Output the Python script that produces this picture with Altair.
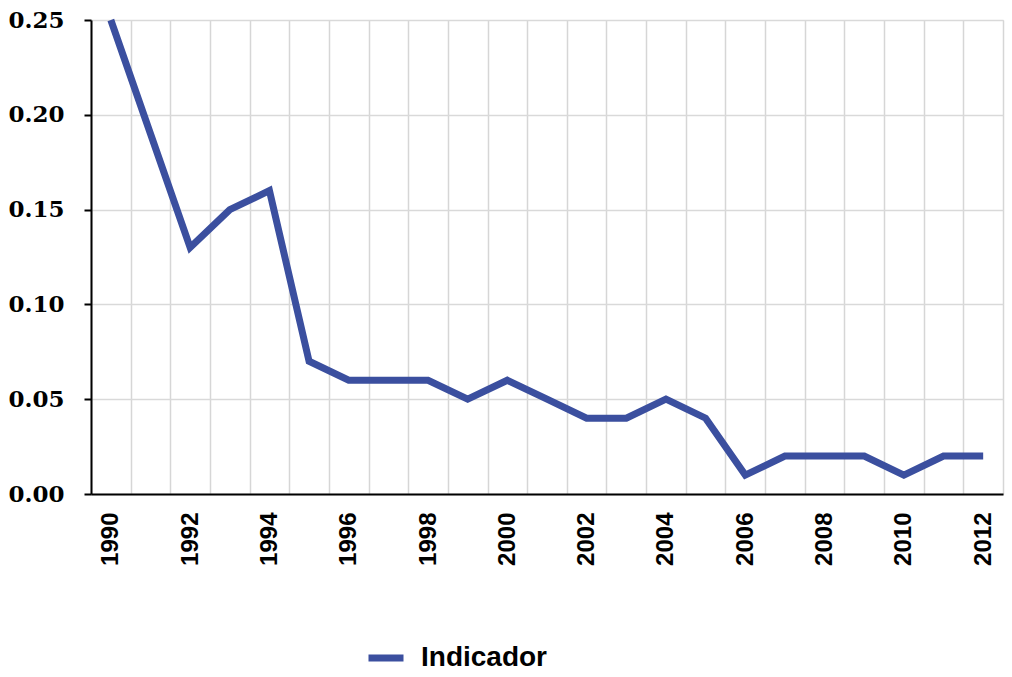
import altair as alt
import pandas as pd

years = list(range(1990, 2013))
values = [0.25, 0.19, 0.13, 0.15, 0.16, 0.07, 0.06, 0.06, 0.06, 0.05, 0.06, 0.05,
          0.04, 0.04, 0.05, 0.04, 0.01, 0.02, 0.02, 0.02, 0.01, 0.02, 0.02]
series_name = "Indicador"
line_color = "#3b4f9f"

df = pd.DataFrame({"year": years, "value": values, "serie": [series_name] * len(years)})

boundaries = [y - 0.5 for y in years] + [years[-1] + 0.5]
axis_values = sorted(set(boundaries + years))

x_axis = alt.Axis(
    values=axis_values,
    title=None,
    ticks=False,
    grid=True,
    gridColor="#d6d6d6",
    gridWidth=1.5,
    gridOpacity={"condition": {"test": "datum.value % 1 != 0", "value": 1}, "value": 0},
    labelExpr="datum.value % 2 == 0 ? format(datum.value, 'd') : ''",
    labelAngle=270,
    labelFont="Liberation Sans",
    labelFontWeight="bold",
    labelFontSize=24,
    labelColor="#000000",
    labelPadding=18,
    labelOverlap=False,
    labelFlush=False,
    domainColor="#000000",
    domainWidth=2,
)

y_axis = alt.Axis(
    values=[0, 0.05, 0.10, 0.15, 0.20, 0.25],
    format=".2f",
    title=None,
    grid=True,
    gridColor="#d9d9d9",
    gridWidth=1.5,
    ticks=True,
    tickColor="#000000",
    tickSize=7,
    tickWidth=2,
    labelFont="DejaVu Serif",
    labelFontWeight="bold",
    labelFontSize=23,
    labelColor="#000000",
    labelPadding=20,
    labelFlush=False,
    domainColor="#000000",
    domainWidth=2,
)

chart = alt.Chart(df).mark_line(strokeWidth=7, strokeJoin="miter", strokeCap="butt").encode(
    x=alt.X("year:Q", scale=alt.Scale(domain=[1989.5, 2012.5], nice=False, zero=False), axis=x_axis),
    y=alt.Y("value:Q", scale=alt.Scale(domain=[0, 0.25], nice=False), axis=y_axis),
    color=alt.Color(
        "serie:N",
        scale=alt.Scale(range=[line_color]),
        legend=alt.Legend(
            title=None,
            orient="none",
            legendX=274,
            legendY=617,
            symbolType="stroke",
            symbolStrokeWidth=7,
            symbolSize=1225,
            labelFont="Liberation Sans",
            labelFontWeight="bold",
            labelFontSize=28,
            labelColor="#000000",
            labelOffset=14,
        ),
    ),
).properties(
    width=912,
    height=474,
    autosize=alt.AutoSizeParams(type="none"),
    padding={"left": 91, "top": 20, "right": 9, "bottom": 183},
).configure_view(stroke=None).configure(background="#ffffff")

chart.save("out.html", embed_options={"renderer": "svg", "actions": False})
